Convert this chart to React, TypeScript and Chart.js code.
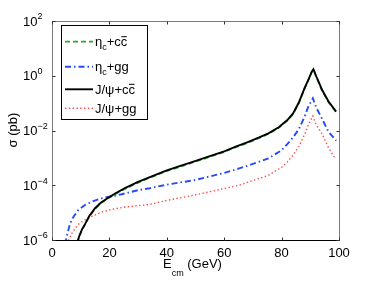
import React, { useEffect, useRef } from "react";
import { Chart, registerables } from "chart.js";

Chart.register(...registerables);

const W = 374;
const H = 281;

// tick values
const xTickValues = [0, 20, 40, 60, 80, 100];
const yTickExponents = [2, 0, -2, -4, -6];

// J/psi + c cbar (and eta_c + c cbar share the energy grid)
const eCC = [8.8, 9.5, 10.5, 11.5, 13, 15, 17, 19.6, 22, 25.4, 30, 34.1, 40, 45, 49.8, 55, 60, 63.8, 68, 72, 75.4, 79, 82, 84, 86, 88, 89.5, 90.5, 91.1, 92, 93.4, 94, 96.3, 99];
const psiCC = [7.9e-7, 1.4e-6, 2.5e-6, 3.8e-6, 7.6e-6, 1.45e-5, 2.3e-5, 3.5e-5, 5.0e-5, 7.8e-5, 1.32e-4, 2.0e-4, 3.5e-4, 5.2e-4, 7.6e-4, 1.15e-3, 1.74e-3, 2.5e-3, 3.7e-3, 5.5e-3, 7.9e-3, 1.32e-2, 2.4e-2, 4.2e-2, 0.105, 0.355, 0.79, 1.41, 1.74, 1.0, 0.45, 0.32, 0.117, 0.049];
const etaCC = [7.5e-7, 1.33e-6, 2.4e-6, 3.6e-6, 7.2e-6, 1.38e-5, 2.2e-5, 3.35e-5, 4.75e-5, 7.4e-5, 1.25e-4, 1.9e-4, 3.3e-4, 4.9e-4, 7.2e-4, 1.09e-3, 1.65e-3, 2.4e-3, 3.5e-3, 5.2e-3, 7.5e-3, 1.25e-2, 2.3e-2, 4.0e-2, 0.1, 0.34, 0.75, 1.34, 1.65, 0.95, 0.43, 0.3, 0.11, 0.047];

// eta_c + g g
const eEtaGG = [4.3, 4.8, 6.3, 7.5, 9.2, 11.5, 13.8, 17, 20, 24.3, 30, 34.1, 40, 49.8, 55, 60, 65.5, 70, 75.4, 80, 82, 84, 86, 88, 89.3, 90.9, 92, 94, 96.3, 99];
const etaGG = [7.1e-7, 1.0e-6, 4.0e-6, 7.1e-6, 1.26e-5, 1.9e-5, 2.5e-5, 3.3e-5, 3.8e-5, 4.7e-5, 6.6e-5, 7.8e-5, 1.05e-4, 1.55e-4, 2.1e-4, 2.8e-4, 4.2e-4, 6.0e-4, 9.5e-4, 1.9e-3, 3.2e-3, 5.6e-3, 1.12e-2, 3.2e-2, 7.4e-2, 0.151, 7.1e-2, 2.8e-2, 9.1e-3, 4.3e-3];

// J/psi + g g
const ePsiGG = [5.2, 5.8, 7, 8, 9.5, 11.5, 14, 17.3, 21, 25.4, 30, 34.1, 40, 49.8, 55, 60, 65.5, 70, 75.4, 80, 82, 84, 86, 88, 89.3, 90.9, 92, 94, 96.3, 98.5];
const psiGG = [7.1e-7, 1.0e-6, 1.8e-6, 2.6e-6, 4.0e-6, 5.4e-6, 7.4e-6, 1.05e-5, 1.32e-5, 1.6e-5, 1.8e-5, 2.0e-5, 2.8e-5, 4.4e-5, 5.8e-5, 7.6e-5, 1.02e-4, 1.5e-4, 2.3e-4, 4.5e-4, 7.1e-4, 1.26e-3, 2.6e-3, 7.1e-3, 1.6e-2, 3.4e-2, 1.66e-2, 7.9e-3, 2.4e-3, 1.0e-3];

type Part = { t: string; sub?: boolean; over?: boolean };

const labelEtaCC: Part[] = [{ t: "η" }, { t: "c", sub: true }, { t: "+c" }, { t: "c", over: true }];
const labelEtaGG: Part[] = [{ t: "η" }, { t: "c", sub: true }, { t: "+gg" }];
const labelPsiCC: Part[] = [{ t: "J/ψ+c" }, { t: "c", over: true }];
const labelPsiGG: Part[] = [{ t: "J/ψ+gg" }];

const FONT = "'Liberation Sans', Arial, Helvetica, sans-serif";

const series = [
  { label: "η_c+cc̄", parts: labelEtaCC, xs: eCC, ys: etaCC, color: "#2aa52a", dash: [5, 3], width: 1.8, rowY: 41.7, order: 3 },
  { label: "η_c+gg", parts: labelEtaGG, xs: eEtaGG, ys: etaGG, color: "#2748ff", dash: [6, 3, 1.5, 3], width: 1.9, rowY: 66.7, order: 2 },
  { label: "J/ψ+cc̄", parts: labelPsiCC, xs: eCC, ys: psiCC, color: "#000000", dash: [] as number[], width: 1.9, rowY: 89.3, order: 0 },
  { label: "J/ψ+gg", parts: labelPsiGG, xs: ePsiGG, ys: psiGG, color: "#ff4a4a", dash: [1.4, 2.4], width: 1.4, rowY: 108.3, order: 1 },
];

function drawParts(ctx: CanvasRenderingContext2D, parts: Part[], x0: number, yMid: number) {
  let x = x0;
  ctx.textAlign = "left";
  ctx.textBaseline = "alphabetic";
  const base = yMid + 4.5;
  for (const p of parts) {
    if (p.sub) {
      ctx.font = `9px ${FONT}`;
      ctx.fillText(p.t, x, base + 3.5);
      x += ctx.measureText(p.t).width;
    } else {
      ctx.font = `13px ${FONT}`;
      ctx.fillText(p.t, x, base);
      const w = ctx.measureText(p.t).width;
      if (p.over) {
        ctx.beginPath();
        ctx.lineWidth = 1;
        ctx.moveTo(x + 0.5, base - 9.5);
        ctx.lineTo(x + w - 0.5, base - 9.5);
        ctx.stroke();
      }
      x += w;
    }
  }
}

const framePlugin = {
  id: "matlabFrame",
  afterDraw(chart: any) {
    const { ctx, chartArea: a, scales } = chart;
    const xs = scales.x;
    const ys = scales.y;
    ctx.save();
    ctx.fillStyle = "#000";
    ctx.strokeStyle = "#000";
    ctx.setLineDash([]);

    // box
    const L = Math.round(a.left) + 0.5;
    const R = Math.round(a.right) + 0.5;
    const T = Math.round(a.top) + 0.5;
    const B = Math.round(a.bottom) + 0.5;
    ctx.lineWidth = 1;
    ctx.strokeStyle = "#7a7a7a";
    ctx.beginPath();
    ctx.moveTo(L, B);
    ctx.lineTo(L, T);
    ctx.lineTo(R, T);
    ctx.lineTo(R, B);
    ctx.stroke();
    ctx.strokeStyle = "#000";
    ctx.beginPath();
    ctx.moveTo(L, B);
    ctx.lineTo(R, B);
    ctx.stroke();

    // ticks
    ctx.strokeStyle = "#333";
    ctx.beginPath();
    for (const v of xTickValues) {
      const px = Math.round(xs.getPixelForValue(v)) + 0.5;
      ctx.moveTo(px, B);
      ctx.lineTo(px, B - 3);
      ctx.moveTo(px, T);
      ctx.lineTo(px, T + 3);
    }
    for (const e of yTickExponents) {
      const py = Math.round(ys.getPixelForValue(Math.pow(10, e))) + 0.5;
      ctx.moveTo(L, py);
      ctx.lineTo(L + 3, py);
      ctx.moveTo(R, py);
      ctx.lineTo(R - 3, py);
    }
    ctx.stroke();

    // y tick labels
    ctx.fillStyle = "#000";
    ctx.textBaseline = "middle";
    ctx.textAlign = "left";
    for (const e of yTickExponents) {
      const py = ys.getPixelForValue(Math.pow(10, e));
      ctx.font = `13px ${FONT}`;
      ctx.fillText("10", 23, py + 1);
      const w = ctx.measureText("10").width;
      ctx.font = `9px ${FONT}`;
      const exp = e < 0 ? "−" + String(-e) : String(e);
      ctx.fillText(exp, 23 + w, py - 4);
    }

    // x axis title
    ctx.textBaseline = "alphabetic";
    ctx.font = `13px ${FONT}`;
    let tx = 163;
    ctx.fillText("E", tx, 268);
    tx += ctx.measureText("E").width;
    ctx.font = `9px ${FONT}`;
    ctx.fillText("cm", tx, 276);
    tx += ctx.measureText("cm").width;
    ctx.font = `13px ${FONT}`;
    ctx.fillText(" (GeV)", tx, 268);

    // y axis title
    ctx.save();
    ctx.translate(13, 130);
    ctx.rotate(-Math.PI / 2);
    ctx.textAlign = "center";
    ctx.textBaseline = "middle";
    ctx.font = `13px ${FONT}`;
    ctx.fillText("σ (pb)", 0, 0);
    ctx.restore();

    // legend
    ctx.fillStyle = "#fff";
    ctx.fillRect(61, 25, 86, 94);
    ctx.strokeStyle = "#000";
    ctx.lineWidth = 1;
    ctx.strokeRect(61.5, 25.5, 86, 94);
    for (const s of series) {
      ctx.beginPath();
      ctx.strokeStyle = s.color;
      ctx.lineWidth = s.width;
      ctx.setLineDash(s.dash);
      ctx.moveTo(65, s.rowY);
      ctx.lineTo(93, s.rowY);
      ctx.stroke();
      ctx.setLineDash([]);
      ctx.fillStyle = "#000";
      ctx.strokeStyle = "#000";
      drawParts(ctx, s.parts, 95, s.rowY);
    }
    ctx.restore();
  },
};

export default function App() {
  const ref = useRef<HTMLCanvasElement | null>(null);
  useEffect(() => {
    document.body.style.margin = "0";
    const canvas = ref.current;
    if (!canvas) return;
    const chart = new Chart(canvas, {
      type: "line",
      data: {
        datasets: series.map((s) => ({
          label: s.label,
          data: s.xs.map((x, i) => ({ x, y: s.ys[i] })),
          borderColor: s.color,
          borderWidth: s.width,
          borderDash: s.dash,
          pointRadius: 0,
          tension: 0,
          fill: false,
          order: s.order,
        })),
      },
      options: {
        responsive: false,
        animation: false,
        devicePixelRatio: 1,
        layout: { padding: { top: 21, right: 35, left: 0, bottom: 0 } },
        plugins: { legend: { display: false }, tooltip: { enabled: false } },
        scales: {
          x: {
            type: "linear",
            min: 0,
            max: 100,
            grid: { display: false, drawTicks: false },
            border: { display: false },
            afterBuildTicks: (s: any) => {
              s.ticks = xTickValues.map((v) => ({ value: v }));
            },
            afterFit: (s: any) => {
              s.height = 41;
            },
            ticks: {
              color: "#000",
              padding: 6,
              maxRotation: 0,
              font: { family: FONT, size: 13 },
            },
          },
          y: {
            type: "logarithmic",
            min: 1e-6,
            max: 1e2,
            grid: { display: false, drawTicks: false },
            border: { display: false },
            ticks: { display: false },
            afterFit: (s: any) => {
              s.width = 52;
            },
          },
        },
      },
      plugins: [framePlugin],
    });
    return () => chart.destroy();
  }, []);
  return (
    <div style={{ width: W, height: H, background: "#fff" }}>
      <canvas ref={ref} width={W} height={H} style={{ display: "block", width: W, height: H }} />
    </div>
  );
}
